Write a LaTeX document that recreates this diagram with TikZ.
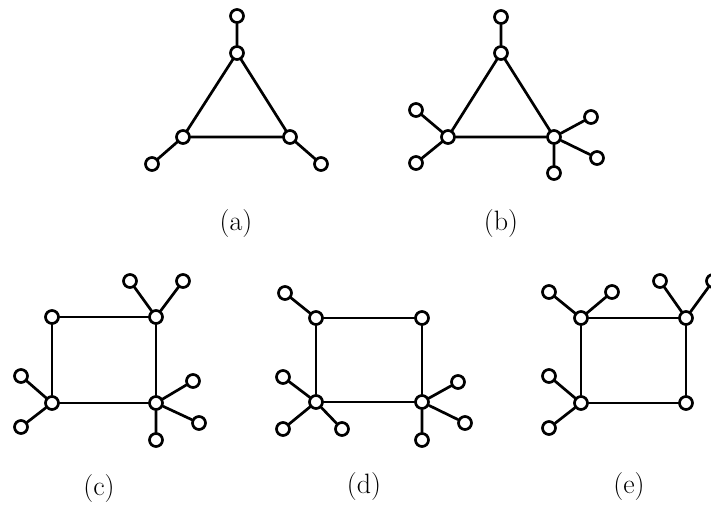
\documentclass[tikz,border=0pt]{standalone}
\usepackage{fontspec}
\usepackage{tikz}
\usetikzlibrary{positioning}

\begin{document}
\begin{tikzpicture}[x=1pt, y=-1pt, line cap=round, line join=round]
  \tikzset{
    vtx/.style={draw, circle, line width=2.7pt, fill=white,
      inner sep=0pt, minimum size=13pt},
    link/.style={line width=2.7pt},
    sublabel/.style={font=\fontsize{28}{32}\selectfont}
  }

  \useasboundingbox (0,0) rectangle (711,509);

  % (a) triangle with one pendant at each corner
  \node[vtx] (a1) at (237,53) {};
  \node[vtx] (a2) at (183,137) {};
  \node[vtx] (a3) at (290,137) {};
  \node[vtx] (a4) at (237,16) {};
  \node[vtx] (a5) at (152,164) {};
  \node[vtx] (a6) at (321,164) {};
  \draw[link] (a1) -- (a2) -- (a3) -- (a1);
  \draw[link] (a1) -- (a4) (a2) -- (a5) (a3) -- (a6);
  \node[sublabel] (la) at (236,224) {(a)};

  % (b)
  \node[vtx] (b1) at (501,53) {};
  \node[vtx] (b2) at (448,137) {};
  \node[vtx] (b3) at (554,137) {};
  \node[vtx] (b4) at (501,17) {};
  \node[vtx] (b5) at (416,110) {};
  \node[vtx] (b6) at (416,163) {};
  \node[vtx] (b7) at (591,117) {};
  \node[vtx] (b8) at (597,158) {};
  \node[vtx] (b9) at (554,173) {};
  \draw[link] (b1) -- (b2) -- (b3) -- (b1);
  \draw[link] (b1) -- (b4) (b2) -- (b5) (b2) -- (b6)
    (b3) -- (b7) (b3) -- (b8) (b3) -- (b9);
  \node[sublabel] (lb) at (501,224) {(b)};

  % (c) square
  \node[vtx] (c1) at (52,317) {};
  \node[vtx] (c2) at (156,317) {};
  \node[vtx] (c3) at (52,403) {};
  \node[vtx] (c4) at (156,403) {};
  \node[vtx] (c5) at (130,281) {};
  \node[vtx] (c6) at (183,281) {};
  \node[vtx] (c7) at (21,376) {};
  \node[vtx] (c8) at (21,427) {};
  \node[vtx] (c9) at (193,381) {};
  \node[vtx] (c10) at (199,423) {};
  \node[vtx] (c11) at (156,440) {};
  \draw[link] (c1) -- (c2) -- (c4) -- (c3) -- (c1);
  \draw[link] (c2) -- (c5) (c2) -- (c6) (c3) -- (c7) (c3) -- (c8)
    (c4) -- (c9) (c4) -- (c10) (c4) -- (c11);
  \node[sublabel] (lc) at (99,489) {(c)};

  % (d)
  \node[vtx] (d1) at (316,318) {};
  \node[vtx] (d2) at (422,318) {};
  \node[vtx] (d3) at (316,402) {};
  \node[vtx] (d4) at (422,402) {};
  \node[vtx] (d5) at (285,293) {};
  \node[vtx] (d6) at (283,377) {};
  \node[vtx] (d7) at (283,429) {};
  \node[vtx] (d8) at (342,429) {};
  \node[vtx] (d9) at (458,382) {};
  \node[vtx] (d10) at (465,423) {};
  \node[vtx] (d11) at (422,440) {};
  \draw[link] (d1) -- (d2) -- (d4) -- (d3) -- (d1);
  \draw[link] (d1) -- (d5) (d3) -- (d6) (d3) -- (d7) (d3) -- (d8)
    (d4) -- (d9) (d4) -- (d10) (d4) -- (d11);
  \node[sublabel] (ld) at (364,487) {(d)};

  % (e)
  \node[vtx] (e1) at (581,318) {};
  \node[vtx] (e2) at (686,318) {};
  \node[vtx] (e3) at (581,403) {};
  \node[vtx] (e4) at (686,403) {};
  \node[vtx] (e5) at (549,292) {};
  \node[vtx] (e6) at (612,292) {};
  \node[vtx] (e7) at (660,281) {};
  \node[vtx] (e8) at (713,281) {};
  \node[vtx] (e9) at (549,376) {};
  \node[vtx] (e10) at (549,428) {};
  \draw[link] (e1) -- (e2) -- (e4) -- (e3) -- (e1);
  \draw[link] (e1) -- (e5) (e1) -- (e6) (e2) -- (e7) (e2) -- (e8)
    (e3) -- (e9) (e3) -- (e10);
  \node[sublabel] (le) at (629,487) {(e)};

\end{tikzpicture}
\end{document}
